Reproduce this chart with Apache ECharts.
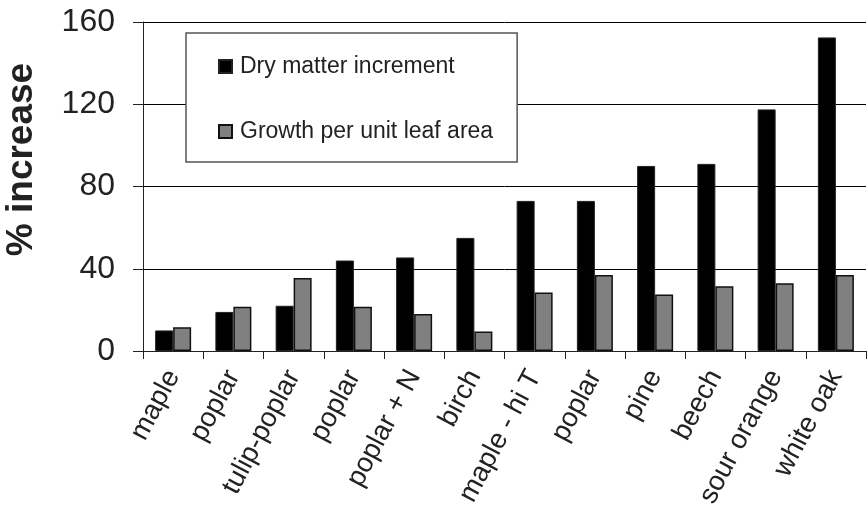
<!DOCTYPE html>
<html>
<head>
<meta charset="utf-8">
<script src="https://cdn.jsdelivr.net/npm/echarts@6/dist/echarts.min.js"></script>
<style>html,body{margin:0;padding:0;background:#fff}#c{width:867px;height:521px}</style>
</head>
<body>
<div id="c"></div>
<script>
var categories = ["maple", "poplar", "tulip-poplar", "poplar", "poplar + N", "birch", "maple - hi T", "poplar", "pine", "beech", "sour orange", "white oak"];
var dryMatter = [10, 19, 22, 44, 45.5, 55, 73, 73, 90, 91, 117.5, 152.5];
var growthLeaf = [11.5, 21.5, 35.5, 21.5, 18, 9.5, 28.5, 37, 27.5, 31.5, 33, 37];
var yTicks = [0, 40, 80, 120, 160];
var seriesNames = ["Dry matter increment", "Growth per unit leaf area"];

var chart = echarts.init(document.getElementById('c'), null, {renderer: 'canvas'});
var font = 'Liberation Sans, Arial, sans-serif';
chart.setOption({
  animation: false,
  backgroundColor: '#fff',
  textStyle: {fontFamily: font, color: '#222'},
  grid: {left: 143, right: 1, top: 22, bottom: 170, containLabel: false, outerBoundsMode: 'none'},
  legend: {
    orient: 'vertical',
    left: 186, top: 33,
    padding: [22, 24, 19, 32],
    itemGap: 42,
    itemWidth: 13, itemHeight: 13,
    icon: 'rect',
    backgroundColor: '#fff',
    borderColor: '#555', borderWidth: 1.5,
    textStyle: {fontSize: 23, color: '#222', fontFamily: font, padding: [0, 0, 0, 3]},
    data: seriesNames
  },
  xAxis: {
    type: 'category',
    data: categories,
    axisLine: {lineStyle: {color: '#222', width: 1}},
    axisTick: {show: true, length: 8, lineStyle: {color: '#222'}},
    axisLabel: {rotate: 62, fontSize: 27.5, color: '#222', fontFamily: font, margin: 21, interval: 0}
  },
  yAxis: {
    type: 'value',
    min: yTicks[0], max: yTicks[yTicks.length - 1], interval: 40,
    name: '% increase',
    nameLocation: 'middle',
    nameGap: 103,
    nameTextStyle: {fontSize: 37, fontWeight: 'bold', color: '#222', fontFamily: font, padding: [0, 0, 0, 54]},
    axisLine: {show: true, lineStyle: {color: '#222', width: 1}},
    axisTick: {show: true, length: 10, lineStyle: {color: '#222'}},
    axisLabel: {fontSize: 32, color: '#222', fontFamily: font, margin: 28},
    splitLine: {show: true, lineStyle: {color: '#000', width: 1}}
  },
  series: [
    {name: seriesNames[0], type: 'bar', data: dryMatter, barWidth: 18, barGap: '0%',
     itemStyle: {color: '#000', borderColor: '#222', borderWidth: 1}},
    {name: seriesNames[1], type: 'bar', data: growthLeaf, barWidth: 18,
     itemStyle: {color: '#808080', borderColor: '#111', borderWidth: 1.5}}
  ]
});
</script>
</body>
</html>
